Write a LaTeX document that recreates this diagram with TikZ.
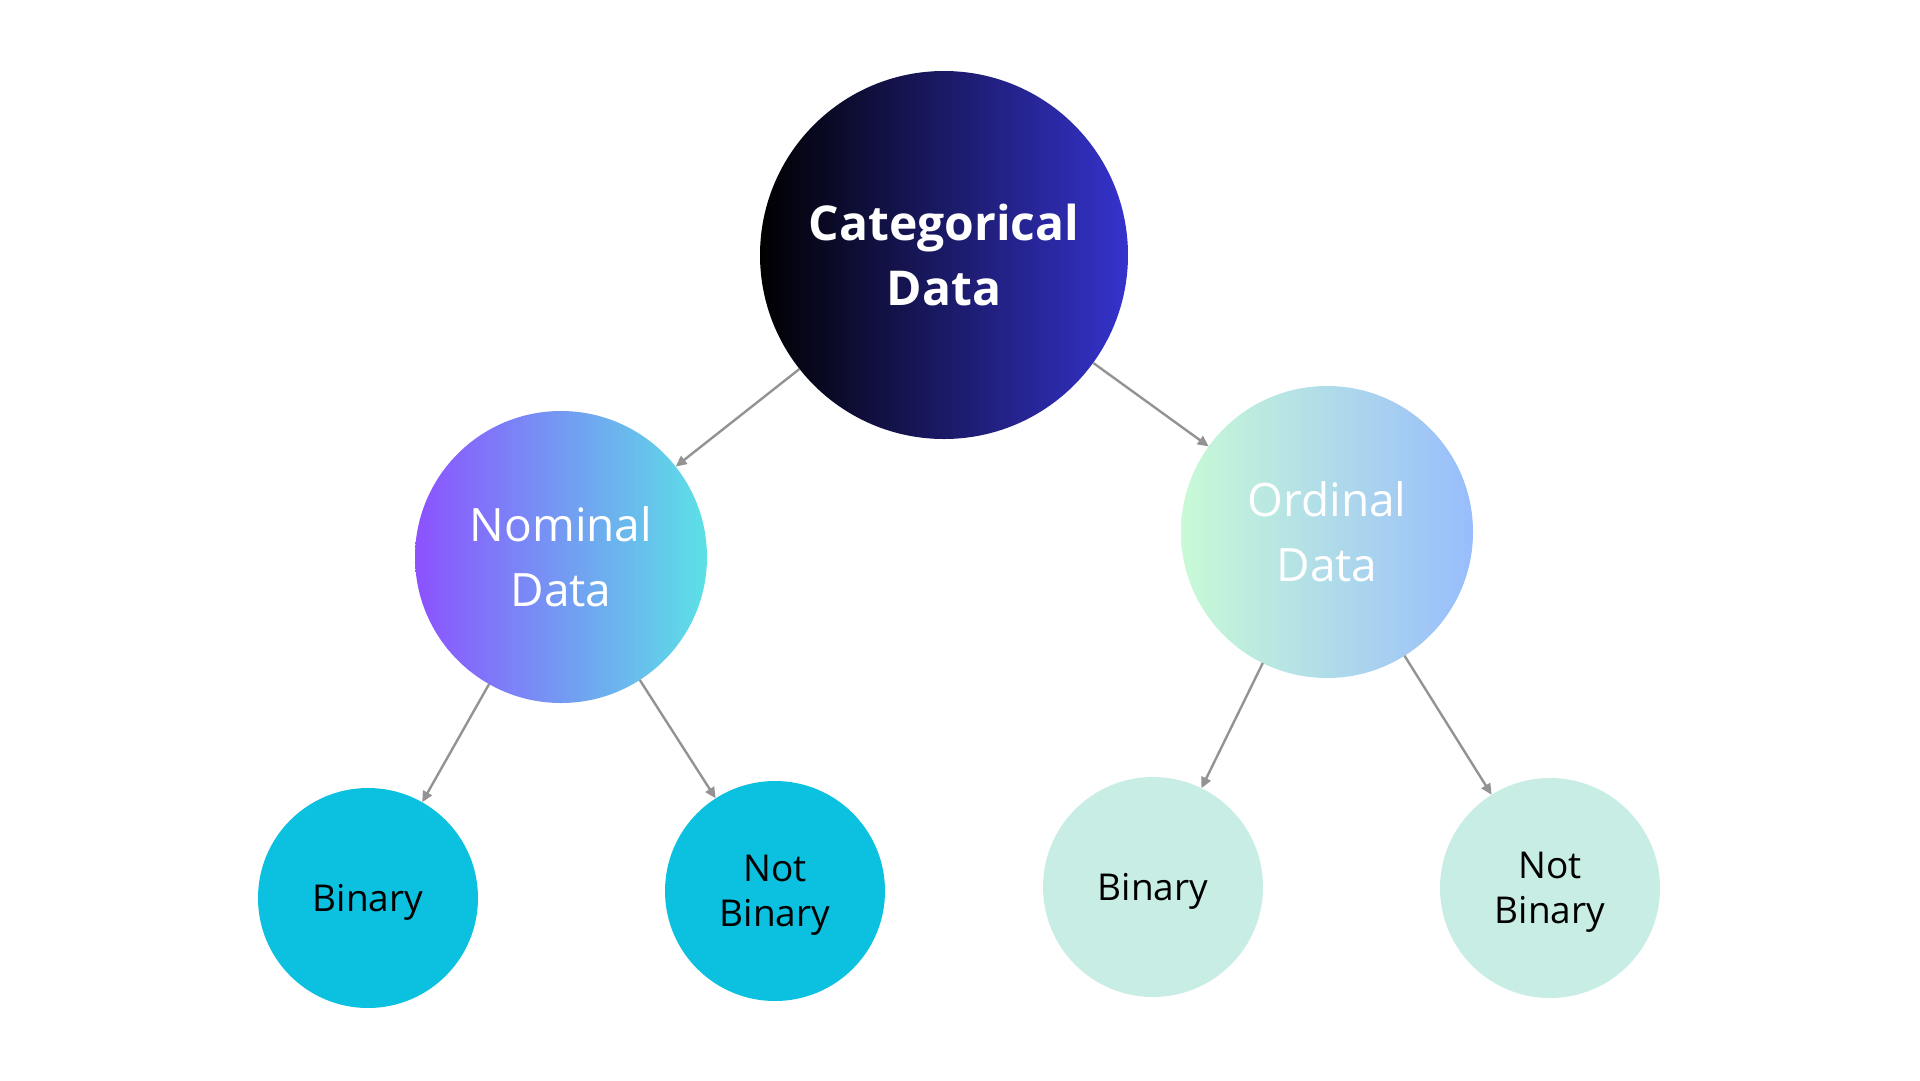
\documentclass[tikz,border=0pt]{standalone}
\usepackage{fontspec}
\setmainfont{Open Sans}
\usetikzlibrary{arrows.meta}
\definecolor{catL}{HTML}{000000}
\definecolor{catR}{HTML}{3533CD}
\definecolor{nomL}{HTML}{8C52FF}
\definecolor{nomR}{HTML}{5CE1E6}
\definecolor{ordL}{HTML}{C8FAD6}
\definecolor{ordR}{HTML}{98BDFC}
\definecolor{leafA}{HTML}{0CC0DF}
\definecolor{leafB}{HTML}{C8EDE5}
\definecolor{arrgray}{HTML}{939393}
\tikzset{
  bubble/.style={circle, inner sep=0pt, outer sep=0pt, align=center},
  bigbubble/.style={bubble, minimum size=368pt, text=white,
    font=\bfseries\fontsize{48}{65}\selectfont},
  midbubble/.style={bubble, minimum size=292pt, text=white,
    font=\fontsize{46}{65}\selectfont},
  leafbubble/.style={bubble, minimum size=220pt, text=black, text depth=0pt,
    font=\fontsize{37}{45}\selectfont},
  arr/.style={draw=arrgray, line width=2.4pt, -{Triangle[length=11pt,width=10pt]}}
}
\begin{document}
\begin{tikzpicture}[x=1pt,y=-1pt]
\useasboundingbox (0,0) rectangle (1920,1080);
\node[bigbubble, left color=catL, right color=catR] (cat) at (944,255) {Categorical\\Data};
\node[midbubble, left color=nomL, right color=nomR] (nom) at (561,557) {Nominal\\Data};
\node[midbubble, left color=ordL, right color=ordR] (ord) at (1327,532) {Ordinal\\Data};
\node[leafbubble, fill=leafA] (nb) at (368,898) {Binary};
\node[leafbubble, fill=leafA] (nnb) at (775,891) {Not\\Binary};
\node[leafbubble, fill=leafB] (ob) at (1153,887) {Binary};
\node[leafbubble, fill=leafB] (onb) at (1550,888) {Not\\Binary};
\draw[arr] (cat) -- (nom);
\draw[arr] (cat) -- (ord);
\draw[arr] (nom) -- (nb);
\draw[arr] (nom) -- (nnb);
\draw[arr] (ord) -- (ob);
\draw[arr] (ord) -- (onb);
\end{tikzpicture}
\end{document}
